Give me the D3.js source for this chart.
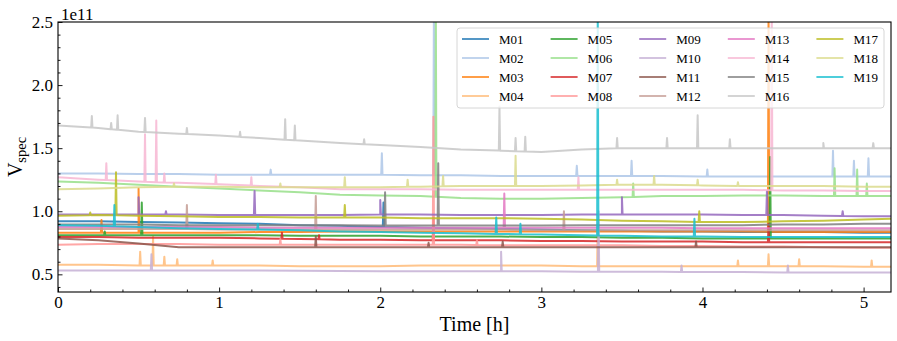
<!DOCTYPE html>
<html>
<head>
<meta charset="utf-8">
<script src="https://cdn.jsdelivr.net/npm/d3@7"></script>
<style>
  body { margin: 0; background: #fff; }
  svg text { font-family: "Liberation Serif", "Times New Roman", serif; }
</style>
</head>
<body>
<div id="chart"></div>
<script>
// time grid (hours) for the baseline readings
const hours = [0, 0.25, 0.5, 0.75, 1, 1.25, 1.5, 1.75, 2, 2.25, 2.5, 2.75, 3, 3.25, 3.5, 3.75, 4, 4.25, 4.5, 4.75, 5, 5.17];

const names = ["M01","M02","M03","M04","M05","M06","M07","M08","M09","M10","M11","M12","M13","M14","M15","M16","M17","M18","M19"];
const colors = ["#1f77b4","#aec7e8","#ff7f0e","#ffbb78","#2ca02c","#98df8a","#d62728","#ff9896","#9467bd","#c5b0d5",
                "#8c564b","#c49c94","#e377c2","#f7b6d2","#7f7f7f","#c7c7c7","#bcbd22","#dbdb8d","#17becf"];

// baseline values (x1e11) on the hours grid
const M01 = [0.92,0.92,0.915,0.91,0.905,0.90,0.89,0.885,0.875,0.87,0.865,0.86,0.855,0.85,0.845,0.84,0.84,0.835,0.835,0.835,0.83,0.83];
const M02 = [1.30,1.30,1.295,1.295,1.29,1.29,1.29,1.29,1.29,1.285,1.285,1.28,1.28,1.28,1.28,1.28,1.275,1.275,1.275,1.275,1.275,1.275];
const M03 = [0.83,0.83,0.83,0.83,0.83,0.835,0.835,0.84,0.84,0.84,0.84,0.84,0.84,0.84,0.84,0.84,0.84,0.84,0.835,0.835,0.835,0.835];
const M04 = [0.575,0.575,0.57,0.57,0.57,0.57,0.565,0.565,0.565,0.57,0.57,0.57,0.57,0.565,0.565,0.565,0.565,0.565,0.565,0.565,0.56,0.56];
const M05 = [0.81,0.81,0.81,0.81,0.81,0.81,0.805,0.805,0.805,0.80,0.80,0.80,0.795,0.795,0.79,0.79,0.785,0.785,0.785,0.785,0.785,0.785];
const M06 = [1.235,1.225,1.21,1.195,1.18,1.165,1.15,1.13,1.125,1.12,1.105,1.10,1.10,1.105,1.11,1.12,1.12,1.125,1.125,1.12,1.12,1.12];
const M07 = [0.795,0.795,0.79,0.79,0.79,0.785,0.78,0.775,0.775,0.77,0.77,0.77,0.765,0.765,0.76,0.76,0.76,0.755,0.755,0.755,0.755,0.755];
const M08 = [0.735,0.74,0.74,0.74,0.735,0.735,0.735,0.735,0.735,0.735,0.735,0.73,0.73,0.73,0.73,0.725,0.725,0.72,0.72,0.715,0.71,0.71];
const M09 = [0.975,0.975,0.975,0.975,0.97,0.97,0.97,0.97,0.975,0.975,0.97,0.97,0.97,0.975,0.975,0.975,0.975,0.97,0.97,0.965,0.96,0.96];
const M10 = [0.53,0.53,0.53,0.53,0.53,0.53,0.528,0.527,0.525,0.525,0.525,0.525,0.525,0.52,0.52,0.52,0.518,0.518,0.515,0.515,0.515,0.515];
const M11 = [0.785,0.77,0.745,0.715,0.715,0.715,0.715,0.715,0.715,0.715,0.715,0.715,0.715,0.715,0.715,0.715,0.715,0.715,0.715,0.715,0.715,0.715];
const M12 = [0.86,0.86,0.86,0.86,0.855,0.855,0.855,0.855,0.855,0.855,0.855,0.855,0.85,0.85,0.85,0.85,0.85,0.85,0.85,0.85,0.85,0.85];
const M13 = [0.875,0.875,0.875,0.875,0.875,0.87,0.87,0.87,0.87,0.87,0.87,0.87,0.87,0.87,0.87,0.87,0.865,0.865,0.865,0.865,0.865,0.865];
const M14 = [1.27,1.25,1.235,1.225,1.215,1.20,1.19,1.175,1.175,1.175,1.17,1.17,1.17,1.17,1.17,1.17,1.17,1.17,1.165,1.165,1.16,1.16];
const M15 = [0.895,0.895,0.895,0.89,0.89,0.89,0.89,0.89,0.887,0.887,0.887,0.887,0.887,0.89,0.89,0.89,0.89,0.89,0.895,0.895,0.90,0.90];
const M16 = [1.68,1.66,1.63,1.615,1.60,1.58,1.56,1.54,1.525,1.51,1.49,1.48,1.47,1.49,1.50,1.50,1.50,1.50,1.50,1.50,1.50,1.50];
const M17 = [0.965,0.97,0.965,0.96,0.955,0.955,0.95,0.95,0.95,0.945,0.945,0.945,0.94,0.935,0.925,0.92,0.915,0.915,0.92,0.925,0.935,0.94];
const M18 = [1.175,1.18,1.19,1.195,1.195,1.19,1.19,1.19,1.19,1.195,1.20,1.20,1.20,1.205,1.21,1.21,1.205,1.20,1.20,1.20,1.195,1.195];
const M19 = [0.89,0.885,0.875,0.865,0.86,0.855,0.85,0.84,0.835,0.83,0.825,0.82,0.815,0.81,0.805,0.80,0.80,0.795,0.795,0.795,0.795,0.795];
const baselines = [M01,M02,M03,M04,M05,M06,M07,M08,M09,M10,M11,M12,M13,M14,M15,M16,M17,M18,M19];

// short spikes per series: [time h, peak value]
const spikes = [
  [[2.02,1.07]],
  [[1.32,1.33],[2.01,1.46],[2.333,2.6],[3.22,1.36],[3.56,1.40],[4.03,1.33],[4.81,1.48],[4.94,1.40],[5.03,1.42]],
  [[0.27,0.93],[0.5,1.18],[4.41,2.6]],
  [[0.51,0.68],[0.59,0.80],[0.66,0.64],[0.74,0.62],[0.96,0.61],[3.35,0.9],[4.22,0.61],[4.41,0.66],[4.6,0.62],[5.05,0.61]],
  [[0.29,0.84],[0.52,1.07],[4.42,1.43]],
  [[2.345,2.6],[3.57,1.22],[4.82,1.34],[4.96,1.33],[5.02,1.22]],
  [[1.39,0.83],[1.62,0.81],[2.33,0.95],[4.41,0.9]],
  [[1.38,0.78],[2.33,1.75],[2.6,0.77]],
  [[0.5,1.11],[0.67,1.0],[1.22,1.16],[2.0,1.09],[3.5,1.11],[4.4,1.16],[4.87,1.0]],
  [[0.58,0.66],[2.75,0.68],[3.355,1.0],[3.87,0.57],[4.53,0.57]],
  [[1.6,0.80],[2.3,0.75],[2.76,0.76],[3.96,0.76]],
  [[0.8,1.05],[1.6,1.12],[3.14,1.0]],
  [[2.77,1.14]],
  [[0.3,1.38],[0.54,1.61],[0.61,1.72],[0.66,1.30],[0.98,1.29],[1.2,1.27],[3.23,1.27],[4.43,2.6]],
  [[2.03,1.15],[2.36,1.38]],
  [[0.21,1.755],[0.33,1.70],[0.37,1.76],[0.54,1.74],[0.8,1.66],[1.13,1.63],[1.41,1.73],[1.47,1.68],[1.9,1.57],[2.74,1.83],[2.84,1.58],[2.9,1.59],[3.47,1.58],[3.78,1.58],[3.97,1.76],[4.17,1.57],[4.75,1.54],[5.06,1.54]],
  [[0.2,0.99],[0.36,1.31],[1.78,1.05],[3.98,1.0]],
  [[0.72,1.22],[1.38,1.22],[1.78,1.27],[2.17,1.25],[2.39,1.28],[2.84,1.44],[3.47,1.25],[3.7,1.28],[3.97,1.25],[4.22,1.23]],
  [[0.35,1.05],[1.24,0.90],[2.72,0.95],[2.87,0.90],[3.35,2.6],[3.95,0.94]]
];

const yTicks = [0.5, 1.0, 1.5, 2.0, 2.5];
const xTicks = [0, 1, 2, 3, 4, 5];

// set the dimensions and margins of the graph
const W = 897, H = 341;
const margin = { top: 22, right: 6, bottom: 49, left: 58 },
  width = W - margin.left - margin.right,
  height = H - margin.top - margin.bottom;

const svg = d3.select("#chart").append("svg")
  .attr("width", W).attr("height", H)
  .append("g")
  .attr("transform", `translate(${margin.left},${margin.top})`);

const x = d3.scaleLinear().domain([0, 5.17]).range([0, width]);
const y = d3.scaleLinear().domain([0.36, 2.5]).range([height, 0]);

svg.append("clipPath").attr("id", "clip")
  .append("rect").attr("width", width).attr("height", height);

// build each series: baseline + narrow spikes
const dt = 0.004;
const series = names.map((name, i) => {
  const base = d3.scaleLinear().domain(hours).range(baselines[i]);
  const pts = hours.map((t, j) => [t, baselines[i][j]]);
  spikes[i].forEach(([t, v]) => {
    pts.push([t - dt, base(t - dt)], [t, v], [t + dt, base(t + dt)]);
  });
  pts.sort((a, b) => a[0] - b[0]);
  return { name, color: colors[i], pts };
});

const line = d3.line().x(d => x(d[0])).y(d => y(d[1]));

svg.append("g").attr("clip-path", "url(#clip)")
  .selectAll("path")
  .data(series)
  .join("path")
  .attr("d", d => line(d.pts))
  .attr("fill", "none")
  .attr("stroke", d => d.color)
  .attr("stroke-width", 2)
  .attr("stroke-opacity", 0.85)
  .attr("stroke-linejoin", "round");

// axes, ticks inside
const xAxis = svg.append("g").attr("transform", `translate(0,${height})`)
  .call(d3.axisBottom(x).tickValues(xTicks).tickFormat(d3.format("d")).tickSizeInner(-4.5).tickSizeOuter(0).tickPadding(4));
const xMinor = svg.append("g").attr("transform", `translate(0,${height})`)
  .call(d3.axisBottom(x).tickValues(d3.range(0, 5.17, 0.2).filter(v => Math.abs(v - Math.round(v)) > 1e-6)).tickFormat("").tickSizeInner(-2.5).tickSizeOuter(0));
const yAxis = svg.append("g")
  .call(d3.axisLeft(y).tickValues(yTicks).tickFormat(d3.format(".1f")).tickSizeInner(-4.5).tickSizeOuter(0).tickPadding(5));
const yMinor = svg.append("g")
  .call(d3.axisLeft(y).tickValues(d3.range(0.4, 2.5, 0.1).filter(v => Math.abs(v * 2 - Math.round(v * 2)) > 1e-6)).tickFormat("").tickSizeInner(-2.5).tickSizeOuter(0));

[xAxis, xMinor, yAxis, yMinor].forEach(g => {
  g.attr("font-family", null).attr("font-size", null);
  g.select(".domain").remove();
  g.selectAll("line").attr("stroke", "#000").attr("stroke-width", 0.9);
  g.selectAll("text").attr("fill", "#000")
    .attr("font-family", "Liberation Serif").attr("font-size", 17);
});

// frame
svg.append("rect").attr("width", width).attr("height", height)
  .attr("fill", "none").attr("stroke", "#000").attr("stroke-width", 1.1);

// offset text and labels
svg.append("text").attr("x", 3).attr("y", -2).text("1e11")
  .style("font-size", "17px");

svg.append("text")
  .attr("x", width / 2).attr("y", height + 39)
  .attr("text-anchor", "middle").style("font-size", "20px")
  .text("Time [h]");

const ylab = svg.append("text")
  .attr("transform", `translate(${-36},${height / 2}) rotate(-90)`)
  .attr("text-anchor", "middle").style("font-size", "20px");
ylab.append("tspan").text("V");
ylab.append("tspan").attr("dy", 4).style("font-size", "14.5px").text("spec");

// legend
const lg = svg.append("g").attr("transform", `translate(${457 - margin.left},${28 - margin.top})`);
lg.append("rect").attr("width", 427).attr("height", 80).attr("rx", 3)
  .attr("fill", "#fff").attr("fill-opacity", 0.8)
  .attr("stroke", "#d6d6d6").attr("stroke-width", 1);
const items = lg.selectAll("g.item").data(series).join("g")
  .attr("class", "item")
  .attr("transform", (d, i) => `translate(${5 + Math.floor(i / 4) * 88.6},${11 + (i % 4) * 19})`);
items.append("line").attr("x1", 0).attr("x2", 27)
  .attr("stroke", d => d.color).attr("stroke-width", 1.8).attr("stroke-opacity", 0.85);
items.append("text").attr("x", 37).attr("y", 4.5)
  .style("font-size", "13px").attr("fill", "#000")
  .text(d => d.name);
</script>
</body>
</html>
